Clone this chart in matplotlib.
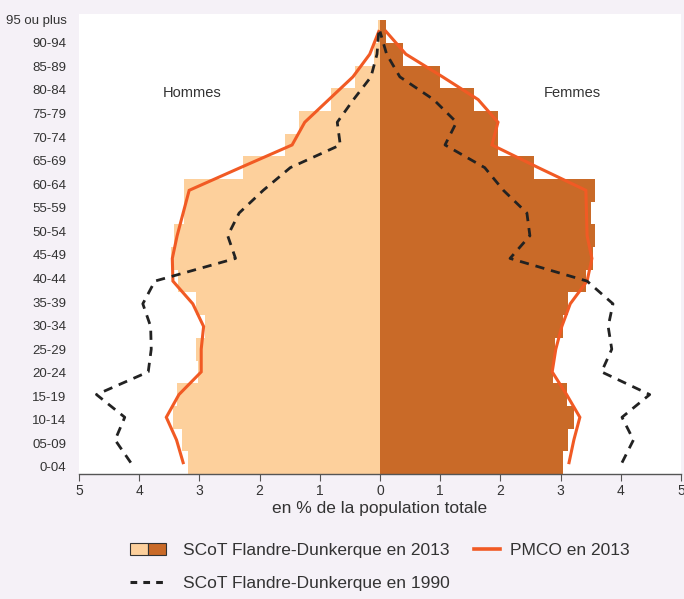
import matplotlib
matplotlib.use("Agg")
import matplotlib.pyplot as plt
import numpy as np
from matplotlib.patches import Patch
from matplotlib.lines import Line2D
from matplotlib.legend_handler import HandlerTuple

plt.rcParams["font.family"] = ["Liberation Sans", "DejaVu Sans"]

# age groups, bottom to top
ages = ["0-04", "05-09", "10-14", "15-19", "20-24", "25-29", "30-34", "35-39",
        "40-44", "45-49", "50-54", "55-59", "60-64", "65-69", "70-74", "75-79",
        "80-84", "85-89", "90-94", "95 ou plus"]

# SCoT Flandre-Dunkerque 2013 (% of total population)
men_2013 = [3.19, 3.29, 3.44, 3.37, 3.02, 3.06, 2.91, 3.06, 3.35, 3.47,
            3.42, 3.26, 3.26, 2.28, 1.58, 1.35, 0.81, 0.42, 0.10, 0.03]
women_2013 = [3.04, 3.12, 3.22, 3.10, 2.87, 2.91, 3.04, 3.12, 3.43, 3.54,
              3.57, 3.50, 3.57, 2.56, 1.96, 1.96, 1.56, 1.00, 0.38, 0.10]

# PMCO 2013
pmco_men = [3.27, 3.38, 3.55, 3.34, 2.97, 2.97, 2.93, 3.11, 3.44, 3.45,
            3.37, 3.27, 3.17, 2.32, 1.46, 1.25, 0.85, 0.45, 0.17, 0.02]
pmco_women = [3.14, 3.22, 3.32, 3.10, 2.86, 2.92, 3.02, 3.16, 3.44, 3.52,
              3.44, 3.43, 3.42, 2.63, 1.86, 1.96, 1.63, 1.04, 0.43, 0.10]

# SCoT Flandre-Dunkerque 1990
men_1990 = [4.14, 4.40, 4.24, 4.71, 3.85, 3.80, 3.81, 3.94, 3.74, 2.40,
            2.53, 2.34, 1.94, 1.49, 0.66, 0.71, 0.44, 0.15, 0.05, 0.02]
women_1990 = [4.02, 4.21, 4.02, 4.48, 3.68, 3.85, 3.79, 3.87, 3.44, 2.16,
              2.49, 2.44, 2.05, 1.74, 1.08, 1.27, 0.89, 0.33, 0.11, 0.00]

LIGHT = "#fdd09c"
DARK = "#c96a28"
ORANGE = "#f15a24"
DASH = "#222222"
BG = "#f5f1f7"
TXT = "#333333"

fig = plt.figure(figsize=(6.84, 5.99), dpi=100, facecolor=BG)
ax = fig.add_axes([79 / 684, 125 / 599, 602 / 684, 460 / 599])
ax.set_facecolor("white")

y = np.arange(len(ages))
ax.barh(y, -np.array(men_2013), height=1.0, color=LIGHT, linewidth=0)
ax.barh(y, women_2013, height=1.0, color=DARK, linewidth=0)

ax.plot(-np.array(pmco_men), y, color=ORANGE, lw=2.2, solid_joinstyle="miter")
ax.plot(pmco_women, y, color=ORANGE, lw=2.2, solid_joinstyle="miter")
ax.plot(-np.array(men_1990), y, color=DASH, lw=2.0, ls=(0, (3.3, 2.5)))
ax.plot(women_1990, y, color=DASH, lw=2.0, ls=(0, (3.3, 2.5)))

ax.set_xlim(-5, 5)
ax.set_ylim(-0.5, 19.77)
ax.set_xticks(np.arange(-5, 6))
ax.set_xticklabels([str(abs(v)) for v in range(-5, 6)], fontsize=10, color=TXT)
# labels in the original are spread slightly wider than the bars
ax.set_yticks(-0.19 + y * (19.73 / 19))
ax.set_yticklabels(ages, fontsize=9.5, color=TXT)
ax.tick_params(axis="y", length=0, pad=9)
ax.tick_params(axis="x", length=5, width=0.8, color="#555555", pad=2)
for s in ["top", "right", "left"]:
    ax.spines[s].set_visible(False)
ax.spines["bottom"].set_color("#555555")
ax.spines["bottom"].set_linewidth(1.0)

ax.set_xlabel("en % de la population totale", fontsize=12.5, color=TXT, labelpad=2)

ax.text(-3.12, 16.28, "Hommes", fontsize=10.5, color=TXT, ha="center", va="center")
ax.text(3.19, 16.28, "Femmes", fontsize=10.5, color=TXT, ha="center", va="center")

# legend: left column (bars + 1990), right column (PMCO)
left_handles = [
    (Patch(facecolor=LIGHT, edgecolor=TXT, lw=0.8), Patch(facecolor=DARK, edgecolor=TXT, lw=0.8)),
    Line2D([], [], color=DASH, lw=2.2, ls=(0, (2.2, 2.0))),
]
left_labels = ["SCoT Flandre-Dunkerque en 2013", "SCoT Flandre-Dunkerque en 1990"]
leg1 = fig.legend(left_handles, left_labels, loc="upper left",
                  bbox_to_anchor=(130 / 684, 1 - 543 / 599),
                  frameon=False, fontsize=12.5, handlelength=2.1, handletextpad=0.95,
                  borderpad=0, borderaxespad=0, labelspacing=1.0,
                  handler_map={tuple: HandlerTuple(ndivide=None, pad=0)}, labelcolor=TXT)
fig.legend([Line2D([], [], color=ORANGE, lw=2.6)], ["PMCO en 2013"], loc="upper left",
           bbox_to_anchor=(474 / 684, 1 - 543 / 599),
           frameon=False, fontsize=12.5, handlelength=1.5, handletextpad=0.55,
           borderpad=0, borderaxespad=0, labelcolor=TXT)

fig.savefig("out.png", dpi=100, facecolor=BG)
